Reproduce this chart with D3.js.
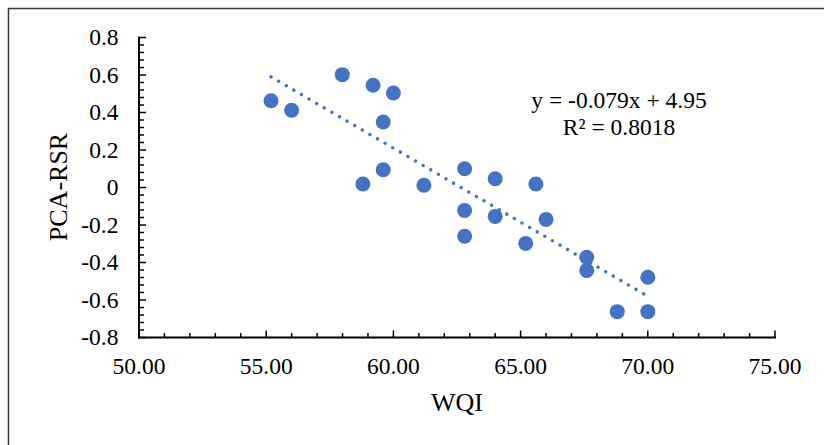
<!DOCTYPE html>
<html>
<head>
<meta charset="utf-8">
<script src="https://cdn.jsdelivr.net/npm/d3@7"></script>
<style>
  html, body { margin: 0; padding: 0; background: #fff; }
  svg { display: block; }
  text { font-family: "Liberation Serif", "Times New Roman", serif; fill: #000; }
</style>
</head>
<body>
<svg id="chart" width="824" height="445"></svg>
<script>
// ---- data ----
const wqi = [55.19, 56.0, 57.99, 59.2, 60.0, 59.6, 59.6, 58.8, 61.2, 62.8, 64.0,
             65.6, 62.8, 64.0, 66.0, 62.8, 65.2, 67.6, 67.6, 70.0, 68.8, 70.0];
const pcaRsr = [0.463, 0.412, 0.602, 0.545, 0.504, 0.349, 0.095, 0.019, 0.012, 0.100, 0.047,
                0.019, -0.122, -0.154, -0.170, -0.260, -0.298, -0.372, -0.442, -0.479, -0.662, -0.662];
const xTicks = [50, 55, 60, 65, 70, 75];
const yTicks = [-0.8, -0.6, -0.4, -0.2, 0, 0.2, 0.4, 0.6, 0.8];
const trendSlope = -0.079;
const trendIntercept = 4.95;
const equationLines = ["y = -0.079x + 4.95", "R² = 0.8018"];
const xTitle = "WQI";
const yTitle = "PCA-RSR";

// ---- layout ----
const svg = d3.select("#chart");
const pL = 139, pR = 775, pT = 37.5, pB = 337.5;
const x = d3.scaleLinear().domain([50, 75]).range([pL, pR]);
const y = d3.scaleLinear().domain([-0.8, 0.8]).range([pB, pT]);
const blue = "#4472C4";
const fmtY = d => d === 0 ? "0" : d3.format(".1f")(d).replace("\u2212", "-");

// outer frame
svg.append("rect")
  .attr("x", 8.5).attr("y", 8.5)
  .attr("width", 830).attr("height", 450)
  .attr("fill", "none").attr("stroke", "#3a3a3a").attr("stroke-width", 1.5);

// minor ticks
const xMinor = d3.range(50, 75.001, 1);
const yMinor = d3.range(0, 41).map(i => -0.8 + i * 0.04);

const gx = svg.append("g");
gx.selectAll("line").data(xMinor).join("line")
  .attr("x1", d => x(d)).attr("x2", d => x(d))
  .attr("y1", pB).attr("y2", (d, i) => pB - (i % 5 === 0 ? 7 : 4.5))
  .attr("stroke", "#000").attr("stroke-width", 1.5);
gx.append("line").attr("x1", pL - 1).attr("x2", pR + 1)
  .attr("y1", pB).attr("y2", pB).attr("stroke", "#000").attr("stroke-width", 2);
gx.selectAll("text").data(xTicks).join("text")
  .attr("x", d => x(d)).attr("y", pB + 36)
  .attr("text-anchor", "middle").attr("font-size", "23.5px")
  .text(d => d3.format(".2f")(d));

const gy = svg.append("g");
gy.selectAll("line").data(yMinor).join("line")
  .attr("y1", d => y(d)).attr("y2", d => y(d))
  .attr("x1", pL).attr("x2", (d, i) => pL + (i % 5 === 0 ? 7 : 5))
  .attr("stroke", "#000").attr("stroke-width", 1.5);
gy.append("line").attr("x1", pL).attr("x2", pL)
  .attr("y1", pT - 1).attr("y2", pB + 1).attr("stroke", "#000").attr("stroke-width", 2);
gy.selectAll("text").data(yTicks).join("text")
  .attr("x", 118.5).attr("y", d => y(d))
  .attr("dy", "0.34em")
  .attr("text-anchor", "end").attr("font-size", "23.5px")
  .text(fmtY);

// axis titles
svg.append("text").attr("x", (pL + pR) / 2).attr("y", 410.5)
  .attr("text-anchor", "middle").attr("font-size", "26px").text(xTitle);
svg.append("text")
  .attr("transform", "translate(66.5,187) rotate(-90)")
  .attr("text-anchor", "middle").attr("font-size", "26px").text(yTitle);

// points
svg.append("g").selectAll("circle").data(wqi).join("circle")
  .attr("cx", d => x(d)).attr("cy", (d, i) => y(pcaRsr[i]))
  .attr("r", 7.5).attr("fill", blue);

// trendline (dotted)
const xMin = d3.min(wqi), xMax = d3.max(wqi);
svg.append("line")
  .attr("x1", x(xMin)).attr("y1", y(trendSlope * xMin + trendIntercept))
  .attr("x2", x(xMax)).attr("y2", y(trendSlope * xMax + trendIntercept))
  .attr("stroke", blue).attr("stroke-width", 3.6)
  .attr("stroke-linecap", "round").attr("stroke-dasharray", "0 8.8");

// equation
svg.append("g").selectAll("text").data(equationLines).join("text")
  .attr("x", 619).attr("y", (d, i) => 108 + i * 27)
  .attr("text-anchor", "middle").attr("font-size", "23.5px")
  .text(d => d);
</script>
</body>
</html>
